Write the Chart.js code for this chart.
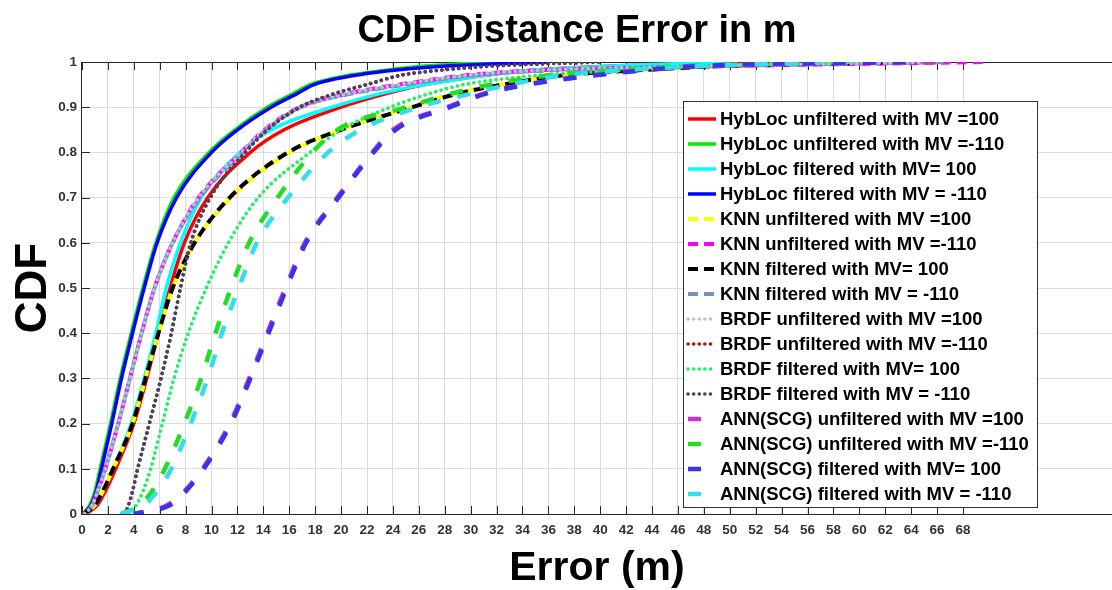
<!DOCTYPE html>
<html>
<head>
<meta charset="utf-8">
<script src="https://cdn.jsdelivr.net/npm/chart.js@4.4.0/dist/chart.umd.min.js"></script>
<style>
  html, body { margin: 0; padding: 0; background: #ffffff; }
  #wrap { width: 1112px; height: 590px; }
</style>
</head>
<body>
<div id="wrap"><canvas id="c" width="1112" height="590"></canvas></div>
<script>
// CDF levels (y values) shared by all series
const cdfLevels = [0, 0.02, 0.05, 0.1, 0.2, 0.3, 0.4, 0.5, 0.6, 0.7, 0.8, 0.85, 0.9, 0.93, 0.95, 0.97, 0.98, 0.99, 1];

// Error (m) at each CDF level
const hybUnf100  = [0.3, 1.2, 1.8, 2.6, 4.0, 5.0, 5.9, 6.8, 7.9, 9.7, 13.0, 15.6, 20.0, 23.5, 26.5, 31.0, 34.0, 40.0, 52];
const hybUnf110  = [0.1, 0.6, 1.0, 1.4, 2.2, 2.95, 3.8, 4.7, 5.7, 7.1, 9.8, 11.8, 14.3, 16.3, 17.6, 20.5, 23.0, 26.0, 32];
const hybF100    = [0.2, 1.0, 1.6, 2.4, 3.8, 4.8, 5.7, 6.5, 7.6, 9.2, 12.2, 14.6, 19.3, 23.0, 26.5, 31.0, 34.0, 40.0, 50];
const hybF110    = [0.1, 0.7, 1.1, 1.5, 2.3, 3.05, 3.9, 4.8, 5.8, 7.3, 10.0, 12.0, 14.6, 16.6, 17.9, 21.0, 23.5, 27.5, 36];
const knnUnf100  = [0.1, 1.0, 1.6, 2.4, 3.9, 4.9, 5.9, 7.0, 8.7, 11.5, 16.0, 20.0, 25.3, 28.7, 32.3, 36.5, 41.5, 48.0, 62];
const knnUnf110  = [0.2, 0.8, 1.2, 1.8, 2.8, 3.7, 4.6, 5.6, 7.0, 9.0, 12.3, 14.1, 16.8, 20.5, 24.5, 29.5, 34.0, 48.0, 70];
const knnF100    = [0.1, 1.0, 1.6, 2.4, 3.9, 4.9, 5.9, 7.0, 8.7, 11.4, 15.9, 20.0, 25.5, 29.0, 32.5, 37.0, 42.0, 48.5, 64];
const knnF110    = [0.2, 0.8, 1.2, 1.8, 2.8, 3.7, 4.6, 5.6, 7.0, 9.1, 12.4, 14.2, 16.9, 20.8, 25.0, 30.0, 35.0, 47.0, 67];
const brdfUnf100 = [0.2, 0.8, 1.2, 1.8, 2.8, 3.7, 4.6, 5.6, 7.0, 9.0, 12.3, 14.1, 16.8, 20.5, 24.5, 29.5, 34.0, 46.0, 66];
const brdfUnf110 = [3.3, 3.6, 3.9, 4.3, 5.2, 6.1, 6.9, 7.6, 8.4, 9.9, 12.6, 14.3, 16.8, 19.5, 22.0, 24.5, 27.0, 31.0, 40];
const brdfF100   = [3.6, 4.2, 4.7, 5.3, 6.2, 7.1, 8.2, 9.6, 11.3, 13.6, 17.6, 20.0, 23.8, 26.8, 29.5, 35.0, 41.0, 48.0, 60];
const brdfF110   = [3.3, 3.6, 3.9, 4.3, 5.2, 6.1, 6.9, 7.6, 8.4, 9.9, 12.6, 14.3, 16.8, 19.5, 22.0, 24.5, 27.0, 31.0, 40];
const annUnf100  = [4.0, 6.6, 7.9, 9.3, 11.4, 12.9, 14.3, 15.7, 17.2, 19.7, 22.4, 24.0, 28.2, 31.0, 34.2, 39.2, 42.5, 46.7, 66];
const annUnf110  = [3.0, 4.5, 5.4, 6.4, 7.9, 9.2, 10.3, 11.5, 12.9, 15.1, 17.8, 19.7, 25.0, 28.5, 31.5, 36.0, 40.0, 46.0, 56];
const annF100    = [4.0, 6.8, 8.0, 9.4, 11.5, 13.0, 14.4, 15.8, 17.3, 19.8, 22.5, 24.2, 28.4, 31.2, 34.4, 39.4, 42.8, 47.0, 64];
const annF110    = [3.0, 4.8, 5.8, 6.9, 8.4, 9.7, 10.8, 12.1, 13.5, 15.9, 19.0, 21.5, 26.0, 30.0, 33.0, 37.0, 41.0, 47.0, 57];

const seriesLabels = [
  'HybLoc unfiltered with MV =100',
  'HybLoc unfiltered with MV =-110',
  'HybLoc filtered with MV= 100',
  'HybLoc filtered with MV = -110',
  'KNN unfiltered with MV =100',
  'KNN unfiltered with MV =-110',
  'KNN filtered with MV= 100',
  'KNN filtered with MV = -110',
  'BRDF unfiltered with MV =100',
  'BRDF unfiltered with MV =-110',
  'BRDF filtered with MV= 100',
  'BRDF filtered with MV = -110',
  'ANN(SCG) unfiltered with MV =100',
  'ANN(SCG) unfiltered with MV =-110',
  'ANN(SCG) filtered with MV= 100',
  'ANN(SCG) filtered with MV = -110'
];
const seriesValues = [hybUnf100, hybUnf110, hybF100, hybF110, knnUnf100, knnUnf110, knnF100, knnF110,
                      brdfUnf100, brdfUnf110, brdfF100, brdfF110, annUnf100, annUnf110, annF100, annF110];

// Axis tick labels
const xTickValues = [0,2,4,6,8,10,12,14,16,18,20,22,24,26,28,30,32,34,36,38,40,42,44,46,48,50,52,54,56,58,60,62,64,66,68];
const yTickValues = [0, 0.1, 0.2, 0.3, 0.4, 0.5, 0.6, 0.7, 0.8, 0.9, 1];

// Styles
const seriesColors = ['#ff0000', '#00ee00', '#00ffff', '#0000ff',
                      '#ffff00', '#ff00ff', '#000000', '#7393bb',
                      '#bdbddb', '#a01818', '#22ee66', '#454563',
                      '#cc33cc', '#22dd22', '#3a33ee', '#33ddee'];
function styleFor(i) {
  if (i < 4) return { borderWidth: 3.5, borderDash: [], borderCapStyle: 'butt', borderDashOffset: 0 };
  if (i < 8) return { borderWidth: 4, borderDash: [10, 6], borderCapStyle: 'butt', borderDashOffset: (i === 4 || i === 7) ? 8 : 0 };
  if (i < 12) return { borderWidth: 3.6, borderDash: [0.1, 5.5], borderCapStyle: 'round', borderDashOffset: 0 };
  return { borderWidth: 4.5, borderDash: [13, 17], borderCapStyle: 'butt', borderDashOffset: (i % 2) ? 0 : 3 };
}

const N = seriesLabels.length;
const datasets = seriesLabels.map((lab, i) => Object.assign({
  label: lab,
  data: seriesValues[i].map((e, k) => ({ x: e, y: cdfLevels[k] })),
  borderColor: seriesColors[i],
  backgroundColor: seriesColors[i],
  pointRadius: 0,
  fill: false,
  cubicInterpolationMode: 'monotone',
  order: N - 1 - i
}, styleFor(i)));

const AXIS_COL = '#262626';
const FONT = 'Liberation Sans, Arial, sans-serif';

// Inward tick marks + top frame line
const frameTicks = {
  id: 'frameTicks',
  beforeDatasetsDraw(chart) {
    const { ctx, chartArea: a, scales } = chart;
    ctx.save();
    ctx.strokeStyle = AXIS_COL;
    ctx.lineWidth = 1;
    ctx.beginPath();
    ctx.moveTo(a.left, a.top + 0.5); ctx.lineTo(a.right, a.top + 0.5);
    xTickValues.forEach(v => {
      const px = Math.round(scales.x.getPixelForValue(v)) + 0.5;
      ctx.moveTo(px, a.bottom); ctx.lineTo(px, a.bottom - 8);
      ctx.moveTo(px, a.top); ctx.lineTo(px, a.top + 8);
    });
    yTickValues.forEach(v => {
      const py = Math.round(scales.y.getPixelForValue(v)) + 0.5;
      ctx.moveTo(a.left, py); ctx.lineTo(a.left + 8, py);
    });
    ctx.stroke();
    ctx.restore();
  }
};

// Legend box inside the plot (drawn from the datasets)
const boxLegend = {
  id: 'boxLegend',
  afterDatasetsDraw(chart) {
    const { ctx } = chart;
    const L = 683, T = 101, R = 1037, B = 507;
    ctx.save();
    ctx.fillStyle = '#ffffff';
    ctx.fillRect(L, T, R - L, B - T);
    ctx.strokeStyle = '#333333';
    ctx.lineWidth = 1;
    ctx.strokeRect(L + 0.5, T + 0.5, R - L, B - T);
    ctx.font = 'bold 18.5px ' + FONT;
    ctx.textBaseline = 'middle';
    ctx.textAlign = 'left';
    chart.data.datasets.forEach((ds, i) => {
      const y = 119 + i * 25;
      ctx.save();
      ctx.strokeStyle = ds.borderColor;
      ctx.lineWidth = ds.borderWidth;
      ctx.lineCap = ds.borderCapStyle;
      ctx.setLineDash(ds.borderDash || []);
      ctx.beginPath();
      ctx.moveTo(688, y); ctx.lineTo(716, y);
      ctx.stroke();
      ctx.restore();
      ctx.fillStyle = '#000000';
      ctx.fillText(ds.label, 720, y + 1);
    });
    ctx.restore();
  }
};

Chart.defaults.font.family = FONT;

new Chart(document.getElementById('c'), {
  type: 'line',
  data: { datasets },
  options: {
    responsive: false,
    animation: false,
    devicePixelRatio: 1,
    layout: { padding: { left: 42, right: 0, top: 0, bottom: 0 } },
    plugins: {
      legend: { display: false },
      tooltip: { enabled: false },
      title: {
        display: true,
        text: 'CDF Distance Error in m',
        color: '#000000',
        font: { size: 38, weight: 'bold', family: FONT },
        padding: { top: 9, bottom: 7.4 }
      }
    },
    scales: {
      x: {
        type: 'linear',
        min: 0,
        max: 79.5,
        afterBuildTicks: (axis) => { axis.ticks = xTickValues.map(v => ({ value: v })); },
        ticks: {
          autoSkip: false, maxRotation: 0, padding: 8,
          color: '#333333',
          font: { size: 13.5, weight: 'bold', family: FONT },
          callback: (v) => String(v)
        },
        grid: { color: '#dcdcdc', lineWidth: 1, drawTicks: false },
        border: { display: true, color: AXIS_COL, width: 1 },
        title: {
          display: true, text: 'Error (m)', color: '#000000',
          font: { size: 41, weight: 'bold', family: FONT },
          padding: { top: -2.4, bottom: -3 }
        }
      },
      y: {
        type: 'linear',
        min: 0,
        max: 1,
        afterBuildTicks: (axis) => { axis.ticks = yTickValues.map(v => ({ value: v })); },
        ticks: {
          padding: 5,
          color: '#333333',
          font: { size: 13.5, weight: 'bold', family: FONT },
          callback: (v) => String(v)
        },
        grid: { color: '#dcdcdc', lineWidth: 1, drawTicks: false },
        border: { display: true, color: AXIS_COL, width: 1 },
        title: {
          display: true, text: 'CDF', color: '#000000',
          font: { size: 44, weight: 'bold', family: FONT },
          padding: { top: -34.4, bottom: -7.2 }
        }
      }
    }
  },
  plugins: [frameTicks, boxLegend]
});
</script>
</body>
</html>
